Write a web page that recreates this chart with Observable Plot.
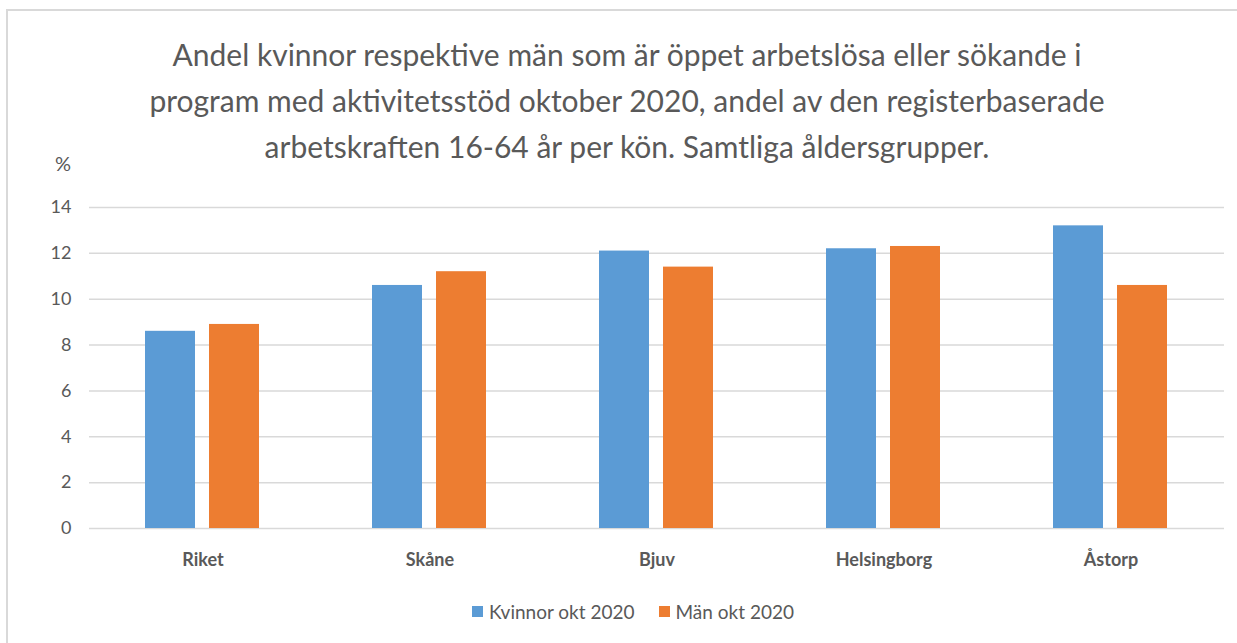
<!DOCTYPE html>
<html>
<head>
<meta charset="utf-8">
<script src="https://cdn.jsdelivr.net/npm/d3@7"></script>
<script src="https://cdn.jsdelivr.net/npm/@observablehq/plot@0.6"></script>
<style>
  html, body { margin: 0; padding: 0; background: #fff; }
  #wrap { position: relative; width: 1237px; height: 643px; overflow: hidden; font-family: Lato, "Open Sans", sans-serif; color: #595959; }
  #frame { position: absolute; left: 6px; top: 9px; width: 1300px; height: 700px; border-left: 2px solid #d9d9d9; border-top: 2px solid #d9d9d9; }
  #title { position: absolute; left: 0; top: 31px; width: 1254px; text-align: center; font-size: 30px; line-height: 46px; }
  #unit { position: absolute; left: 0; top: 153px; width: 71px; text-align: right; font-size: 20px; line-height: 20px; }
  #chart { position: absolute; left: 0; top: 190px; }
  #legend { position: absolute; left: 472px; top: 602px; display: flex; align-items: center; font-size: 19px; line-height: 19px; }
  #legend .item { display: flex; align-items: center; margin-right: 24px; }
  #legend .sw { width: 11px; height: 11px; margin-right: 6px; }
  #chart g[aria-label^="fx-axis"] text { font-weight: bold; }
</style>
</head>
<body>
<div id="wrap">
  <div id="frame"></div>
  <div id="title">Andel kvinnor respektive män som är öppet arbetslösa eller sökande i<br>program med aktivitetsstöd oktober 2020, andel av den registerbaserade<br>arbetskraften 16-64 år per kön. Samtliga åldersgrupper.</div>
  <div id="unit">%</div>
  <div id="chart"></div>
  <div id="legend"></div>
</div>
<script>
const categories = ["Riket", "Skåne", "Bjuv", "Helsingborg", "Åstorp"];
const series = ["Kvinnor okt 2020", "Män okt 2020"];
const kvinnor = [8.6, 10.6, 12.1, 12.2, 13.2];
const man = [8.9, 11.2, 11.4, 12.3, 10.6];
const yTicks = [0, 2, 4, 6, 8, 10, 12, 14];
const colors = ["#5B9BD5", "#ED7D31"];

const data = categories.flatMap((c, i) => [
  {region: c, serie: series[0], value: kvinnor[i]},
  {region: c, serie: series[1], value: man[i]}
]);

const chart = Plot.plot({
  width: 1237,
  height: 390,
  marginLeft: 87,
  marginRight: 12,
  marginTop: 17,
  marginBottom: 52,
  style: {fontFamily: "Lato, 'Open Sans', sans-serif", fontSize: "18px", color: "#595959", background: "transparent"},
  fx: {domain: categories, padding: 0, label: null, axis: "bottom", tickSize: 0, tickPadding: 25},
  x: {domain: series, paddingInner: 0.2154, paddingOuter: 0.8577, axis: null},
  y: {domain: [0, 14], ticks: yTicks, tickSize: 0, tickPadding: 18, label: null},
  color: {domain: series, range: colors},
  marks: [
    Plot.ruleY(yTicks, {y: d => d, stroke: "#d9d9d9", strokeWidth: 1.5}),
    Plot.barY(data, {fx: "region", x: "serie", y: "value", fill: "serie"})
  ]
});
document.getElementById("chart").appendChild(chart);

const legend = document.getElementById("legend");
series.forEach((s, i) => {
  const item = document.createElement("div");
  item.className = "item";
  const sw = document.createElement("div");
  sw.className = "sw";
  sw.style.background = colors[i];
  const t = document.createElement("span");
  t.textContent = s;
  item.appendChild(sw);
  item.appendChild(t);
  legend.appendChild(item);
});
</script>
</body>
</html>
